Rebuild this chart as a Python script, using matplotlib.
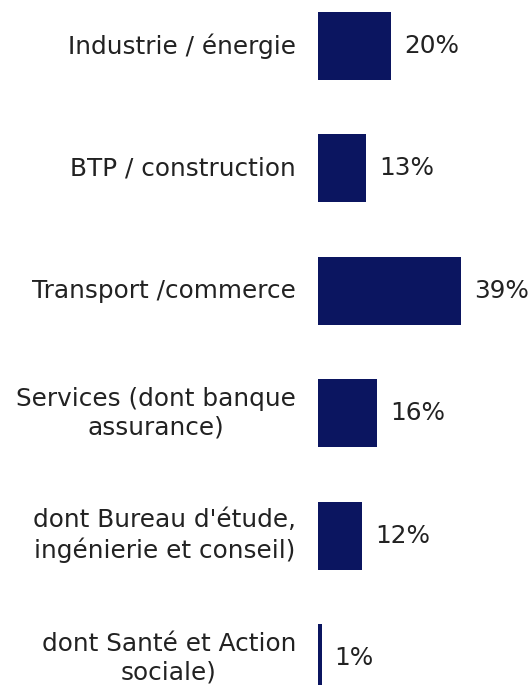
import matplotlib.pyplot as plt

# Data
categories = [
    "Industrie / énergie",
    "BTP / construction",
    "Transport /commerce",
    "Services (dont banque\nassurance)",
    "dont Bureau d'étude,\ningénierie et conseil)",
    "dont Santé et Action\nsociale)",
]
values = [20, 13, 39, 16, 12, 1]
value_labels = ["20%", "13%", "39%", "16%", "12%", "1%"]

# Creating the figure
fig = plt.figure(figsize=(5.31, 6.85), dpi=100)
ax = fig.add_axes([0, 0, 1, 1])

positions = list(range(len(categories)))
ax.barh(positions, values, height=0.555, color="#0b1560")

# Category labels on the left, value labels on the right
for pos, cat, val, lab in zip(positions, categories, values, value_labels):
    ax.annotate(cat, (0, pos), xytext=(-22, 0), textcoords="offset pixels",
                ha="right", va="center", multialignment="center",
                fontsize=17.8, color="#222222", family="DejaVu Sans",
                linespacing=1.25)
    ax.annotate(lab, (val, pos), xytext=(13, 0), textcoords="offset pixels",
                ha="left", va="center", fontsize=17.8, color="#222222", family="DejaVu Sans")

# Customizing axis
ax.set_xlim(-86.6, 58.0)
ax.set_ylim(5.22, -0.376)
ax.axis("off")

# Saving the chart
plt.savefig("out.png", dpi=100)
plt.close()
